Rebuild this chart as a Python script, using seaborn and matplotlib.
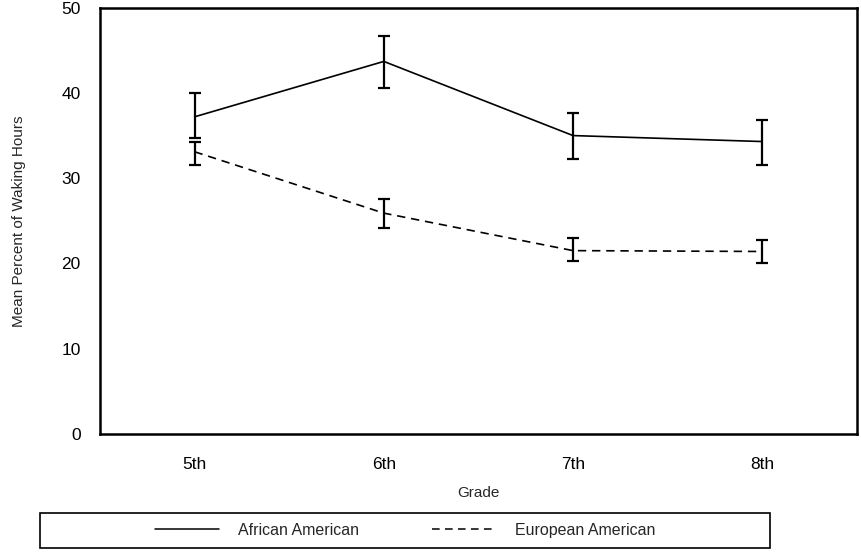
import matplotlib
matplotlib.use("Agg")
import matplotlib.pyplot as plt
import seaborn as sns
import pandas as pd
from matplotlib.patches import Rectangle

GRADES = ["5th", "6th", "7th", "8th"]
AFRICAN_MEAN = [37.2, 43.7, 35.0, 34.3]
AFRICAN_LOW = [34.7, 40.6, 32.3, 31.6]
AFRICAN_HIGH = [40.0, 46.7, 37.7, 36.8]
EUROPEAN_MEAN = [33.1, 25.9, 21.5, 21.4]
EUROPEAN_LOW = [31.5, 24.2, 20.3, 20.1]
EUROPEAN_HIGH = [34.3, 27.5, 23.0, 22.7]


def main():
    sns.set_style("white")
    plt.rcParams['font.family'] = ['Liberation Sans', 'DejaVu Sans']

    df = pd.DataFrame({
        "Grade": GRADES * 2,
        "Mean": AFRICAN_MEAN + EUROPEAN_MEAN,
        "Group": ["African American"] * 4 + ["European American"] * 4,
    })

    fig = plt.figure(figsize=(8.62, 5.52), dpi=100)
    ax = fig.add_axes([0.116, 0.214, 0.878, 0.772])

    sns.lineplot(data=df, x="Grade", y="Mean", style="Group",
                 dashes={"African American": "", "European American": (5, 3.5)},
                 color="black", linewidth=1.2, ax=ax, legend=True, sort=False)

    # error bars from the low/high values
    for mean, low, high in [(AFRICAN_MEAN, AFRICAN_LOW, AFRICAN_HIGH),
                            (EUROPEAN_MEAN, EUROPEAN_LOW, EUROPEAN_HIGH)]:
        err = [[m - l for m, l in zip(mean, low)], [h - m for m, h in zip(mean, high)]]
        ax.errorbar(GRADES, mean, yerr=err, fmt="none", ecolor="black",
                    elinewidth=1.6, capsize=4.5, capthick=1.6)

    ax.set_xlim(-0.5, 3.5)
    ax.set_ylim(0, 50)
    ax.set_yticks([0, 10, 20, 30, 40, 50])
    ax.set_xlabel("Grade", fontsize=11, labelpad=10)
    ax.set_ylabel("Mean Percent of Waking Hours", fontsize=11, labelpad=25)
    ax.tick_params(direction="in", length=5, width=1.2, labelsize=12.5,
                   color="black", labelcolor="black")
    ax.tick_params(axis="y", pad=14)
    ax.tick_params(axis="x", pad=17)
    for s in ax.spines.values():
        s.set_linewidth(1.8)
        s.set_color("black")

    handles, labels = ax.get_legend_handles_labels()
    ax.get_legend().remove()
    for h in handles:
        h.set_linewidth(1.1)
    fig.legend(handles, labels, loc="center", bbox_to_anchor=(0.47, 0.039),
               ncol=2, frameon=False, fontsize=11.5, handlelength=4.0,
               handletextpad=1.2, columnspacing=4.6)
    fig.patches.append(Rectangle((40 / 862, 4 / 552), 730 / 862, 35 / 552,
                                 transform=fig.transFigure, fill=False,
                                 edgecolor="black", linewidth=1.2))

    fig.savefig("out.png", dpi=100)


if __name__ == "__main__":
    main()
